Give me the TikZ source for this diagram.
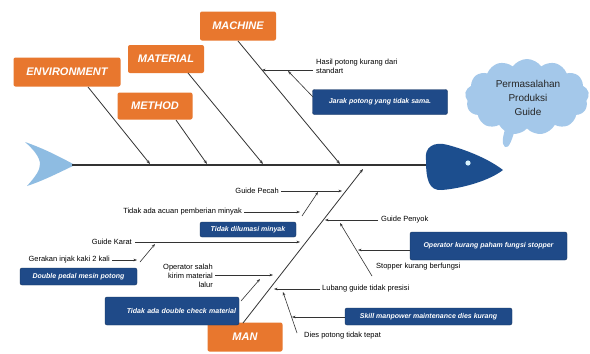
\documentclass[tikz,border=0pt]{standalone}
\usepackage{fontspec}
\setmainfont{Liberation Sans}
\usetikzlibrary{arrows.meta,shapes.symbols}
\definecolor{orng}{HTML}{E8772E}
\definecolor{dblue}{HTML}{1F4A88}
\definecolor{hblue}{HTML}{1C4E8E}
\definecolor{cloudc}{HTML}{A4C8EA}
\definecolor{tailc}{HTML}{8EBCE2}
\definecolor{linec}{HTML}{333333}
\tikzset{
  cat/.style={fill=orng, rounded corners=2pt, text=white, font=\fontsize{11}{12}\selectfont\bfseries\itshape, inner sep=0pt},
  bluebox/.style={fill=dblue, draw=dblue!70!black, rounded corners=2pt, text=white, font=\fontsize{7}{8}\selectfont\bfseries\itshape, inner sep=0pt},
  lbl/.style={text=black, font=\fontsize{7.5}{9}\selectfont, inner sep=0pt},
  bone/.style={draw=linec, line width=0.8pt, -{Stealth[length=4pt,width=3pt]}},
  sub/.style={draw=linec, line width=0.6pt, -{Stealth[length=3.5pt,width=2.6pt]}}
}
\begin{document}
\begin{tikzpicture}[x=1pt,y=-1pt]
\useasboundingbox (0,0) rectangle (590,354);
\fill[white] (0,0) rectangle (590,354);
% tail
\fill[tailc] (25,142) .. controls (45,149) and (60,157) .. (75,165) .. controls (60,172) and (45,180) .. (27,186) .. controls (36,176) and (40,170) .. (40,164) .. controls (40,157) and (33,149) .. (25,142) -- cycle;
% spine
\coordinate (sp0) at (72,165);
\coordinate (sp1) at (432,165);
\draw[linec, line width=2.8pt] (sp0) -- (sp1);
% head
\fill[hblue] (426,160) .. controls (424,147) and (434,141) .. (448,145) .. controls (470,151) and (490,160) .. (503,170) .. controls (490,180) and (465,188) .. (442,190) .. controls (429,191) and (426,180) .. (426,160) -- cycle;
\fill[cyan!15!white] (468,163) circle (2.6);
% cloud
\node[cloud, cloud puffs=13, cloud puff arc=110, aspect=1.55, fill=cloudc, minimum width=124, minimum height=76, inner sep=0pt] (cl) at (527,97) {};
\fill[cloudc] (506,126) .. controls (503,136) and (501,144) .. (505,147) .. controls (509,149) and (512,140) .. (516,126) -- cycle;
\node[align=center, font=\fontsize{10}{14}\selectfont, text=black!85] (prob) at (528,98) {Permasalahan\\Produksi\\Guide};
% categories
\node[cat, minimum width=107, minimum height=29] (env) at (67,72) {ENVIRONMENT};
\node[cat, minimum width=76, minimum height=28] (mat) at (166,59) {MATERIAL};
\node[cat, minimum width=75, minimum height=27] (met) at (155,106) {METHOD};
\node[cat, minimum width=76, minimum height=29] (mac) at (238,26) {MACHINE};
\node[cat, minimum width=75, minimum height=29] (man) at (245,337) {MAN};
% bone coordinates
\coordinate (envA) at (88,87);   \coordinate (envS) at (150,164);
\coordinate (metA) at (176,120); \coordinate (metS) at (207,164);
\coordinate (matA) at (188,73);  \coordinate (matS) at (263,164);
\coordinate (macA) at (238,41);  \coordinate (macS) at (340,164);
\coordinate (manA) at (243,323); \coordinate (manS) at (363,169);
\draw[bone] (envA) -- (envS);
\draw[bone] (metA) -- (metS);
\draw[bone] (matA) -- (matS);
\draw[bone] (macA) -- (macS);
\draw[bone] (manA) -- (manS);
% machine sub causes
\node[lbl, anchor=west, align=left] (hasil) at (316,66) {Hasil potong kurang dari\\standart};
\coordinate (hasA) at (313,70); \coordinate (hasB) at (262,70);
\draw[sub] (hasA) -- (hasB);
\node[bluebox, minimum width=135, minimum height=25] (jarak) at (380,102) {Jarak potong yang tidak sama.};
\coordinate (jarA) at (313,97); \coordinate (jarB) at (288,71);
\draw[sub] (jarA) -- (jarB);
% man: left side
\node[lbl, anchor=east] (pecah) at (279,191) {Guide Pecah};
\coordinate (pecA) at (281,191); \coordinate (pecB) at (342,191);
\draw[sub] (pecA) -- (pecB);
\node[lbl, anchor=east] (acuan) at (242,212) {Tidak ada acuan pemberian minyak};
\coordinate (acuA) at (244,212); \coordinate (acuB) at (300,212);
\draw[sub] (acuA) -- (acuB);
\coordinate (dilA) at (302,216); \coordinate (dilB) at (318,192);
\draw[sub] (dilA) -- (dilB);
\node[bluebox, minimum width=96, minimum height=15] (dilumasi) at (248,229.5) {Tidak dilumasi minyak};
\node[lbl, anchor=east] (karat) at (132,242) {Guide Karat};
\coordinate (karA) at (135,242); \coordinate (karB) at (300,242);
\draw[sub] (karA) -- (karB);
\node[lbl, anchor=east] (gerak) at (110,260) {Gerakan injak kaki 2 kali};
\coordinate (gerA) at (112,260); \coordinate (gerB) at (137,260);
\draw[sub] (gerA) -- (gerB);
\coordinate (dpA) at (140,262); \coordinate (dpB) at (155,244);
\draw[sub] (dpA) -- (dpB);
\node[bluebox, minimum width=117, minimum height=17] (pedal) at (78.5,276.5) {Double pedal mesin potong};
\node[lbl, anchor=east, align=right] (opsalah) at (213,276) {Operator salah\\kirim material\\lalur};
\coordinate (opsA) at (215,275); \coordinate (opsB) at (273,275);
\draw[sub] (opsA) -- (opsB);
\node[bluebox, minimum width=134, minimum height=28, text width=128, align=right] (dcheck) at (172,311) {Tidak ada double check material};
\coordinate (dcA) at (241,301); \coordinate (dcB) at (260,279);
\draw[sub] (dcA) -- (dcB);
% man: right side
\node[lbl, anchor=west] (penyok) at (381,220) {Guide Penyok};
\coordinate (penA) at (378,220); \coordinate (penB) at (325,220);
\draw[sub] (penA) -- (penB);
\node[bluebox, minimum width=157, minimum height=28] (opkurang) at (488.5,246) {Operator kurang paham fungsi stopper};
\coordinate (okA) at (410,250); \coordinate (okB) at (358,250);
\draw[sub] (okA) -- (okB);
\node[lbl, anchor=west] (stopper) at (376,267) {Stopper kurang berfungsi};
\coordinate (stA) at (372,276); \coordinate (stB) at (340,223);
\draw[sub] (stA) -- (stB);
\node[lbl, anchor=west] (lubang) at (322,289) {Lubang guide tidak presisi};
\coordinate (luA) at (320,289); \coordinate (luB) at (274,289);
\draw[sub] (luA) -- (luB);
\node[bluebox, minimum width=167, minimum height=17] (skill) at (428.5,316.5) {Skill manpower maintenance dies kurang};
\coordinate (skA) at (345,317); \coordinate (skB) at (292,317);
\draw[sub] (skA) -- (skB);
\node[lbl, anchor=west] (dies) at (304,336) {Dies potong tidak tepat};
\coordinate (diA) at (297,333); \coordinate (diB) at (283,292);
\draw[sub] (diA) -- (diB);
\end{tikzpicture}
\end{document}
